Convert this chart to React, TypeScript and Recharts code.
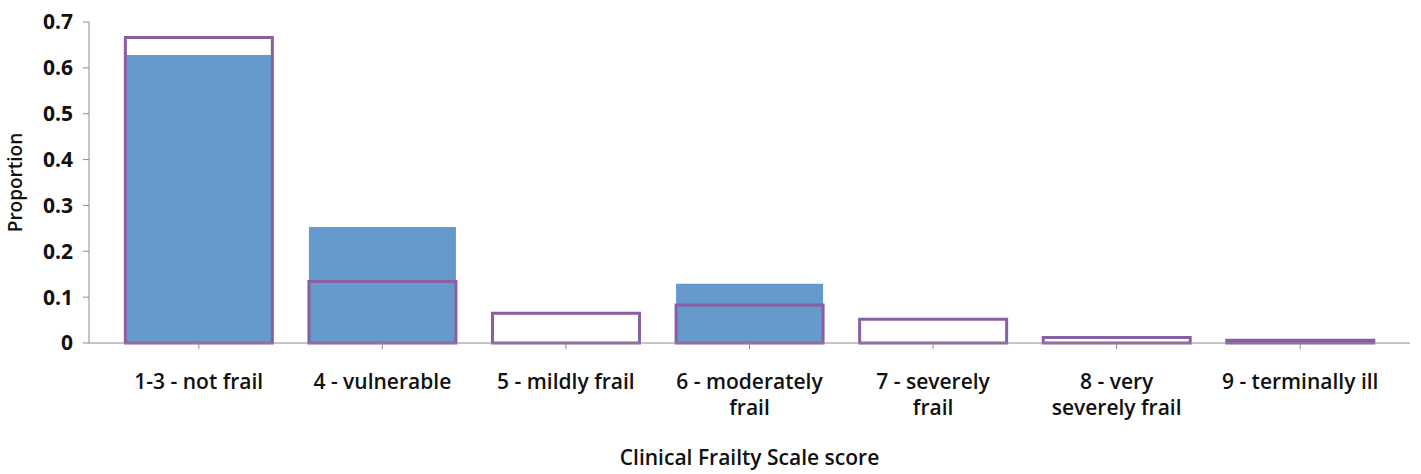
import { BarChart, Bar, XAxis, YAxis, Label } from 'recharts';

const categories = [
  '1-3 - not frail',
  '4 - vulnerable',
  '5 - mildly frail',
  '6 - moderately\nfrail',
  '7 - severely\nfrail',
  '8 - very\nseverely frail',
  '9 - terminally ill',
];
const blueValues = [0.628, 0.253, 0, 0.129, 0, 0, 0];
const purpleValues = [0.666, 0.134, 0.065, 0.083, 0.052, 0.012, 0.006];
const yTicks = [0, 0.1, 0.2, 0.3, 0.4, 0.5, 0.6, 0.7];

const FONT = '"Open Sans", Lato, sans-serif';
const AXIS = '#8c8c8c';

const data = categories.map((name, i) => ({ name, blue: blueValues[i], purple: purpleValues[i] }));

function CategoryTick(props: any) {
  const { x, y, payload } = props;
  const lines = String(payload.value).split('\n');
  return (
    <text x={x} y={y} textAnchor="middle" fontFamily={FONT} fontWeight={600} fontSize={21} fill="#111">
      {lines.map((line, i) => (
        <tspan key={i} x={x} dy={i === 0 ? 38 : 26}>
          {line}
        </tspan>
      ))}
    </text>
  );
}

export default function App() {
  return (
    <div style={{ position: 'absolute', left: 0, top: 0, background: '#fff' }}>
      <BarChart
        width={1421}
        height={474}
        data={data}
        margin={{ top: 22, right: 11, bottom: 0, left: 0 }}
        barCategoryGap="10%"
      >
        <XAxis
          xAxisId="main"
          dataKey="name"
          height={131}
          padding={{ left: 18, right: 18 }}
          stroke={AXIS}
          tickSize={6}
          tickLine={{ stroke: AXIS }}
          interval={0}
          tick={<CategoryTick />}
        >
          <Label
            value="Clinical Frailty Scale score"
            position="insideBottom"
            offset={9}
            style={{ fontFamily: FONT, fontWeight: 600, fontSize: 21, fill: '#111' }}
          />
        </XAxis>
        <XAxis xAxisId="overlay" dataKey="name" hide padding={{ left: 18, right: 18 }} />
        <YAxis
          width={89}
          domain={[0, 0.7]}
          ticks={yTicks}
          interval={0}
          stroke={AXIS}
          tickSize={6}
          tickMargin={10}
          tick={{ fontFamily: FONT, fontWeight: 700, fontSize: 21, fill: '#111' }}
        >
          <Label
            content={(p: any) => {
              const vb = p.viewBox;
              const cx = vb.x + 15;
              const cy = vb.y + vb.height / 2;
              return (
                <text
                  x={cx}
                  y={cy}
                  transform={`rotate(-90 ${cx} ${cy})`}
                  textAnchor="middle"
                  dominantBaseline="central"
                  fontFamily={FONT}
                  fontWeight={600}
                  fontSize={19}
                  fill="#111"
                >
                  Proportion
                </text>
              );
            }}
          />
        </YAxis>
        <Bar xAxisId="main" dataKey="blue" fill="#6699cc" isAnimationActive={false} />
        <Bar
          xAxisId="overlay"
          dataKey="purple"
          fill="none"
          stroke="#8b5ea3"
          strokeWidth={3}
          isAnimationActive={false}
        />
      </BarChart>
    </div>
  );
}
